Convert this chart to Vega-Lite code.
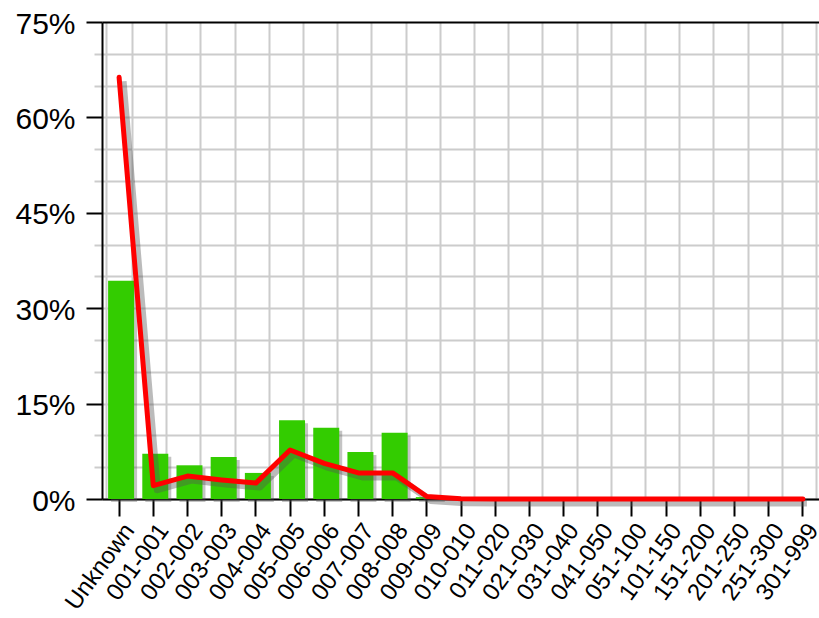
{
  "$schema": "https://vega.github.io/schema/vega-lite/v6.json",
  "width": 718,
  "height": 477,
  "autosize": {"type": "none"},
  "padding": {"left": 102, "top": 22, "right": 0, "bottom": 119},
  "background": "white",
  "config": {"view": {"stroke": null}, "font": "Liberation Sans"},
  "data": {
    "values": [
      {"cat": "Unknown", "bar": 34.3, "line": 66.3},
      {"cat": "001-001", "bar": 7.1, "line": 2.1},
      {"cat": "002-002", "bar": 5.3, "line": 3.6},
      {"cat": "003-003", "bar": 6.6, "line": 3.0},
      {"cat": "004-004", "bar": 4.1, "line": 2.5},
      {"cat": "005-005", "bar": 12.4, "line": 7.7},
      {"cat": "006-006", "bar": 11.2, "line": 5.6},
      {"cat": "007-007", "bar": 7.4, "line": 4.1},
      {"cat": "008-008", "bar": 10.4, "line": 4.1},
      {"cat": "009-009", "bar": 0.3, "line": 0.4},
      {"cat": "010-010", "bar": 0, "line": 0.05},
      {"cat": "011-020", "bar": 0, "line": 0},
      {"cat": "021-030", "bar": 0, "line": 0},
      {"cat": "031-040", "bar": 0, "line": 0},
      {"cat": "041-050", "bar": 0, "line": 0},
      {"cat": "051-100", "bar": 0, "line": 0},
      {"cat": "101-150", "bar": 0, "line": 0},
      {"cat": "151-200", "bar": 0, "line": 0},
      {"cat": "201-250", "bar": 0, "line": 0},
      {"cat": "251-300", "bar": 0, "line": 0},
      {"cat": "301-999", "bar": 0, "line": 0}
    ]
  },
  "layer": [
    {
      "mark": {"type": "bar", "color": "#555555", "opacity": 0.35, "xOffset": 5, "yOffset": 3},
      "encoding": {
        "x": {"field": "cat", "type": "ordinal", "sort": null,
          "scale": {"paddingInner": 0.24, "paddingOuter": 0.12},
          "axis": {"tickBand": "extent", "grid": true, "gridColor": "#cccccc", "gridWidth": 2, "ticks": false, "labels": false, "domain": false, "title": null, "zindex": 0}},
        "y": {"field": "bar", "type": "quantitative",
          "scale": {"domain": [0, 75], "nice": false, "zero": true},
          "axis": {
            "values": [0, 5, 10, 15, 20, 25, 30, 35, 40, 45, 50, 55, 60, 65, 70, 75],
            "labelExpr": "datum.value % 15 === 0 ? datum.value + '%' : ''",
            "tickSize": {"condition": {"test": "datum.value % 15 === 0", "value": 16}, "value": 8},
            "tickColor": {"condition": {"test": "datum.value % 15 === 0", "value": "black"}, "value": "#cccccc"},
            "tickWidth": 2,
            "gridColor": {"condition": {"test": "datum.value === 75", "value": "black"}, "value": "#cccccc"},
            "gridWidth": 2,
            "domainColor": "black", "domainWidth": 2,
            "labelFontSize": 30, "labelColor": "black", "labelPadding": 11, "labelOffset": 2,
            "title": null, "zindex": 0
          }}
      }
    },
    {
      "mark": {"type": "bar", "color": "#33cc00", "xOffset": 2},
      "encoding": {
        "x": {"field": "cat", "type": "ordinal", "sort": null, "axis": null},
        "y": {"field": "bar", "type": "quantitative", "axis": null}
      }
    },
    {
      "mark": {"type": "line", "color": "#555555", "opacity": 0.4, "strokeWidth": 7, "xOffset": 4, "yOffset": 4, "strokeJoin": "round"},
      "encoding": {
        "x": {"field": "cat", "type": "ordinal", "sort": null, "axis": null},
        "y": {"field": "line", "type": "quantitative", "axis": null}
      }
    },
    {
      "mark": {"type": "line", "color": "#ff0000", "strokeWidth": 5, "strokeJoin": "round", "strokeCap": "round"},
      "encoding": {
        "x": {"field": "cat", "type": "ordinal", "sort": null,
          "axis": {"orient": "bottom", "grid": false, "tickSize": 17, "tickWidth": 2, "tickColor": "black", "domainColor": "black", "domainWidth": 2,
            "labelAngle": -54, "labelAlign": "right", "labelBaseline": "top", "labelFontSize": 24, "labelColor": "black", "labelPadding": 3, "labelOffset": 1, "title": null}},
        "y": {"field": "line", "type": "quantitative", "axis": null}
      }
    }
  ],
  "resolve": {"axis": {"x": "independent", "y": "independent"}}
}
